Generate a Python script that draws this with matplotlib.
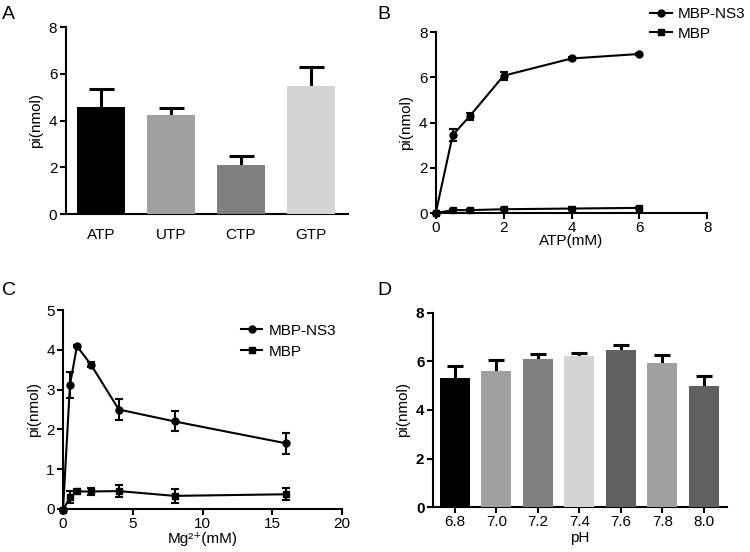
import matplotlib
matplotlib.use("Agg")
import matplotlib.pyplot as plt
from matplotlib.lines import Line2D
import numpy as np

plt.rcParams['font.family'] = ['Liberation Sans', 'DejaVu Sans']

# Panel A
nuc_labels = ["ATP", "UTP", "CTP", "GTP"]
nuc_values = [4.58, 4.23, 2.1, 5.48]
nuc_err = [0.77, 0.3, 0.4, 0.82]
nuc_colors = ["#000000", "#a0a0a0", "#7f7f7f", "#d4d4d4"]

# Panel B
atp_conc = [0, 0.5, 1, 2, 4, 6]
atp_ns3 = [0.0, 3.45, 4.28, 6.07, 6.83, 7.03]
atp_ns3_err = [0.02, 0.25, 0.15, 0.18, 0.05, 0.05]
atp_mbp = [0.0, 0.13, 0.13, 0.17, 0.2, 0.23]
atp_mbp_err = [0.02, 0.04, 0.04, 0.05, 0.07, 0.05]

# Panel C
mg_conc = [0, 0.5, 1, 2, 4, 8, 16]
mg_ns3 = [-0.03, 3.12, 4.09, 3.63, 2.5, 2.2, 1.65]
mg_ns3_err = [0.02, 0.33, 0.03, 0.06, 0.27, 0.25, 0.26]
mg_mbp = [-0.03, 0.3, 0.44, 0.44, 0.45, 0.33, 0.37]
mg_mbp_err = [0.02, 0.15, 0.05, 0.1, 0.15, 0.18, 0.15]

# Panel D
ph_labels = ["6.8", "7.0", "7.2", "7.4", "7.6", "7.8", "8.0"]
ph_values = [5.32, 5.59, 6.12, 6.21, 6.46, 5.94, 5.0]
ph_err = [0.51, 0.46, 0.2, 0.14, 0.23, 0.31, 0.39]
ph_colors = ["#000000", "#a0a0a0", "#7f7f7f", "#d4d4d4", "#606060", "#a0a0a0", "#606060"]

FS = 11
fig = plt.figure(figsize=(7.5, 5.52), dpi=100)

def style(ax):
    for s in ['top', 'right']:
        ax.spines[s].set_visible(False)
    for s in ['left', 'bottom']:
        ax.spines[s].set_linewidth(1.5)
        ax.spines[s].set_color('black')
    ax.tick_params(direction='out', width=1.5, length=4, labelsize=FS, pad=2)

handles = [Line2D([], [], color='black', marker='o', lw=1.5, ms=5),
           Line2D([], [], color='black', marker='s', lw=1.5, ms=5)]

# A
axA = fig.add_axes([0.0876, 0.6123, 0.3764, 0.3387])
xa = np.arange(len(nuc_labels))
axA.bar(xa, nuc_values, width=0.69, color=nuc_colors, zorder=3)
axA.errorbar(xa, nuc_values, yerr=nuc_err, fmt='none',
             ecolor='black', elinewidth=2.2, capsize=9, capthick=2.2, zorder=2)
axA.set_xlim(-0.5, 3.53)
axA.set_ylim(0, 8)
axA.set_yticks([0, 2, 4, 6, 8])
axA.set_xticks(xa)
axA.set_xticklabels(nuc_labels)
axA.set_ylabel("pi(nmol)", fontsize=FS)
style(axA)
axA.tick_params(axis='x', length=0, pad=10)
fig.text(0.003, 0.973, "A", fontsize=14, va='center')

# B
axB = fig.add_axes([0.581, 0.614, 0.362, 0.328])
axB.errorbar(atp_conc, atp_ns3, yerr=atp_ns3_err, fmt='-o', color='black', lw=1.5,
             ms=5, elinewidth=1.5, capsize=3, capthick=1.5, clip_on=False)
axB.errorbar(atp_conc, atp_mbp, yerr=atp_mbp_err, fmt='-s', color='black', lw=1.5,
             ms=5, elinewidth=1.5, capsize=3, capthick=1.5, clip_on=False)
axB.set_xlim(0, 8)
axB.set_ylim(0, 8)
axB.set_xticks([0, 2, 4, 6, 8])
axB.set_yticks([0, 2, 4, 6, 8])
axB.set_xlabel("ATP(mM)", fontsize=FS, labelpad=-1)
axB.set_ylabel("pi(nmol)", fontsize=FS)
style(axB)
fig.legend(handles, ["MBP-NS3", "MBP"], loc='upper left', bbox_to_anchor=(0.853, 1.006),
           frameon=False, fontsize=FS, handlelength=1.4, handletextpad=0.4,
           labelspacing=0.35, borderpad=0.2)
fig.text(0.503, 0.973, "B", fontsize=14, va='center')

# C
axC = fig.add_axes([0.084, 0.0779, 0.372, 0.3605])
axC.errorbar(mg_conc, mg_ns3, yerr=mg_ns3_err, fmt='-o', color='black', lw=1.5,
             ms=5, elinewidth=1.5, capsize=3, capthick=1.5, clip_on=False)
axC.errorbar(mg_conc, mg_mbp, yerr=mg_mbp_err, fmt='-s', color='black', lw=1.5,
             ms=5, elinewidth=1.5, capsize=3, capthick=1.5, clip_on=False)
axC.set_xlim(0, 20)
axC.set_ylim(0, 5)
axC.set_xticks([0, 5, 10, 15, 20])
axC.set_yticks([0, 1, 2, 3, 4, 5])
axC.set_xlabel("Mg²⁺(mM)", fontsize=FS, labelpad=0.5)
axC.set_ylabel("pi(nmol)", fontsize=FS)
style(axC)
axC.legend(handles, ["MBP-NS3", "MBP"], loc='upper left', bbox_to_anchor=(0.6, 0.985),
           frameon=False, fontsize=FS, handlelength=1.4, handletextpad=0.4,
           labelspacing=0.45, borderpad=0.2)
fig.text(0.003, 0.473, "C", fontsize=14, va='center')

# D
axD = fig.add_axes([0.577, 0.0815, 0.392, 0.3515])
xd = np.arange(len(ph_labels))
axD.bar(xd, ph_values, width=0.72, color=ph_colors, zorder=3)
axD.errorbar(xd, ph_values, yerr=ph_err, fmt='none',
             ecolor='black', elinewidth=2.2, capsize=6, capthick=2.2, zorder=2)
axD.set_xlim(-0.53, 6.55)
axD.set_ylim(0, 8)
axD.set_yticks([0, 2, 4, 6, 8])
axD.set_xticks(xd)
axD.set_xticklabels(ph_labels)
axD.set_xlabel("pH", fontsize=FS, labelpad=1)
axD.set_ylabel("pi(nmol)", fontsize=FS)
style(axD)
for t in axD.get_yticklabels():
    t.set_fontweight('bold')
fig.text(0.503, 0.473, "D", fontsize=14, va='center')

fig.savefig("out.png", dpi=100)
